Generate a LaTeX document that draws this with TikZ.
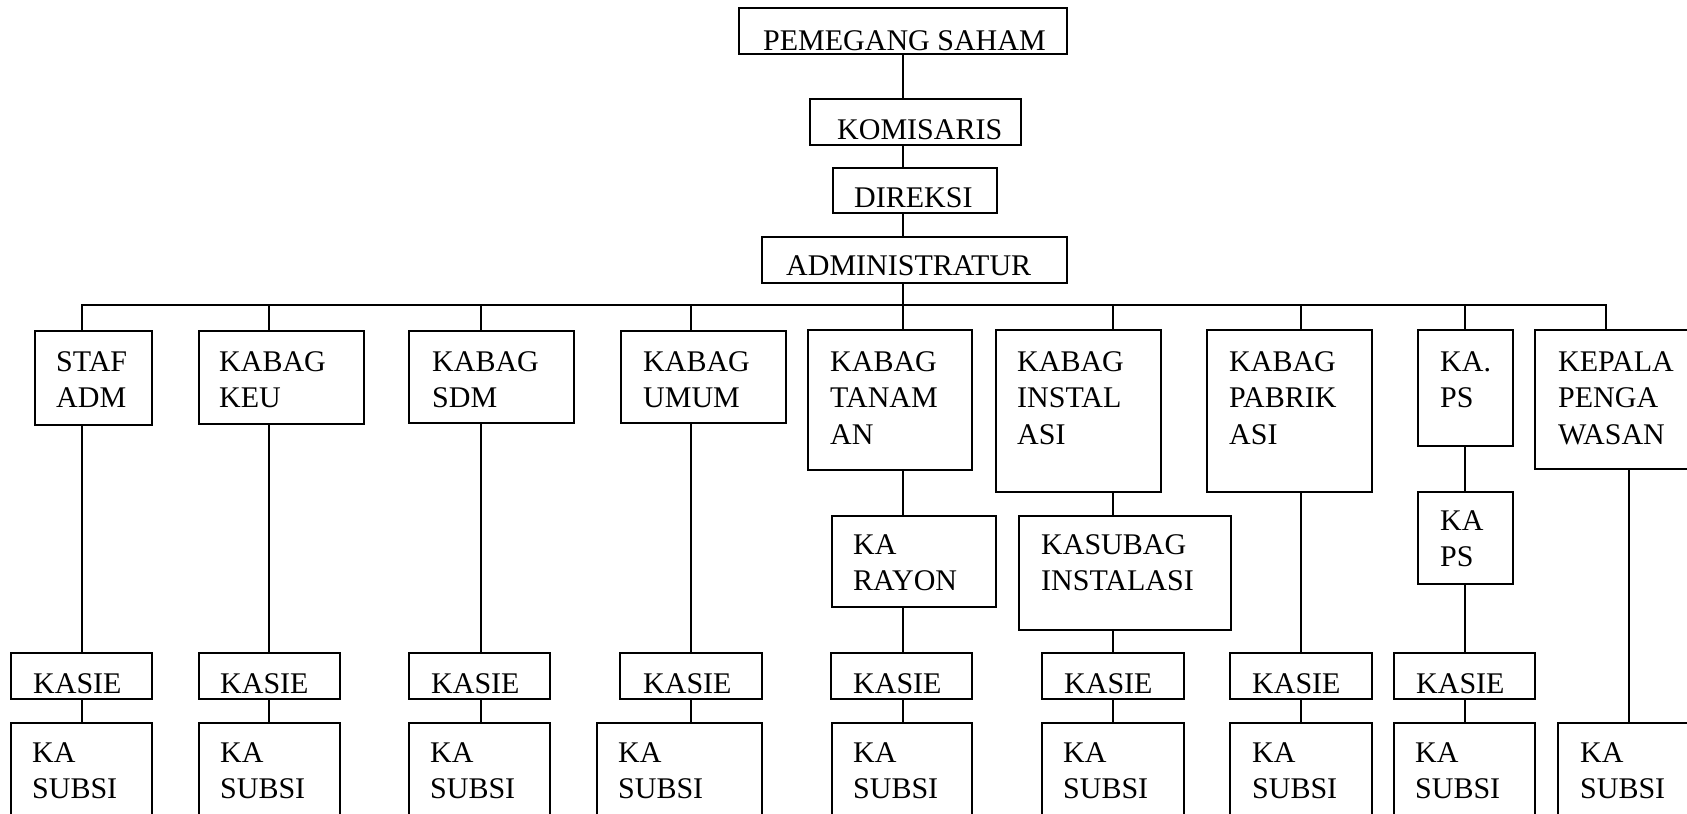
\documentclass[tikz,border=0pt]{standalone}
\usepackage{fontspec}
\setmainfont{Liberation Serif}
\usetikzlibrary{fit}
\begin{document}
\begin{tikzpicture}[x=1pt,y=-1pt,
  box/.style={draw, line width=2pt, inner sep=0pt, rectangle},
  txt/.style={anchor=north west, inner sep=0pt, align=left, font=\fontsize{30}{36.5}\selectfont},
  link/.style={line width=2pt}]
\fill[white] (0,0) rectangle (1687,814);
\useasboundingbox (0,0) rectangle (1687,814);

% top chain
\node[box, fit={(739,8)(1067,54)}] (psaham) {};
\node[txt] (t-psaham) at (763,30) {PEMEGANG SAHAM};
\node[box, fit={(810,99)(1021,145)}] (komis) {};
\node[txt] (t-komis) at (837,119) {KOMISARIS};
\node[box, fit={(833,168)(997,213)}] (direk) {};
\node[txt] (t-direk) at (854,187) {DIREKSI};
\node[box, fit={(762,237)(1067,283)}] (admin) {};
\node[txt] (t-admin) at (786,255) {ADMINISTRATUR};

% level 1
\node[box, fit={(35,331)(152,425)}] (staf) {};
\node[txt] (t-staf) at (56,351) {STAF\\ADM};
\node[box, fit={(199,331)(364,424)}] (keu) {};
\node[txt] (t-keu) at (219,351) {KABAG\\KEU};
\node[box, fit={(409,331)(574,423)}] (sdm) {};
\node[txt] (t-sdm) at (432,351) {KABAG\\SDM};
\node[box, fit={(621,331)(786,423)}] (umum) {};
\node[txt] (t-umum) at (643,351) {KABAG\\UMUM};
\node[box, fit={(808,330)(972,470)}] (tanam) {};
\node[txt] (t-tanam) at (830,351) {KABAG\\TANAM\\AN};
\node[box, fit={(996,330)(1161,492)}] (instal) {};
\node[txt] (t-instal) at (1017,351) {KABAG\\INSTAL\\ASI};
\node[box, fit={(1207,330)(1372,492)}] (pabrik) {};
\node[txt] (t-pabrik) at (1229,351) {KABAG\\PABRIK\\ASI};
\node[box, fit={(1418,330)(1513,446)}] (kaps) {};
\node[txt] (t-kaps) at (1440,351) {KA.\\PS};
\node[box, fit={(1535,330)(1700,469)}] (kepala) {};
\node[txt] (t-kepala) at (1558,351) {KEPALA\\PENGA\\WASAN};

% level 2
\node[box, fit={(832,516)(996,607)}] (rayon) {};
\node[txt] (t-rayon) at (853,534) {KA\\RAYON};
\node[box, fit={(1019,516)(1231,630)}] (kasubag) {};
\node[txt] (t-kasubag) at (1041,534) {KASUBAG\\INSTALASI};
\node[box, fit={(1418,492)(1513,584)}] (kaps2) {};
\node[txt] (t-kaps2) at (1440,510) {KA\\PS};

% KASIE row
\node[box, fit={(11,653)(152,699)}] (k1) {};
\node[txt] (t-k1) at (33,673) {KASIE};
\node[box, fit={(199,653)(340,699)}] (k2) {};
\node[txt] (t-k2) at (220,673) {KASIE};
\node[box, fit={(409,653)(550,699)}] (k3) {};
\node[txt] (t-k3) at (431,673) {KASIE};
\node[box, fit={(620,653)(762,699)}] (k4) {};
\node[txt] (t-k4) at (643,673) {KASIE};
\node[box, fit={(831,653)(972,699)}] (k5) {};
\node[txt] (t-k5) at (853,673) {KASIE};
\node[box, fit={(1042,653)(1184,699)}] (k6) {};
\node[txt] (t-k6) at (1064,673) {KASIE};
\node[box, fit={(1230,653)(1372,699)}] (k7) {};
\node[txt] (t-k7) at (1252,673) {KASIE};
\node[box, fit={(1394,653)(1535,699)}] (k8) {};
\node[txt] (t-k8) at (1416,673) {KASIE};

% KA SUBSI row
\node[box, fit={(11,723)(152,830)}] (s1) {};
\node[txt] (t-s1) at (32,742) {KA\\SUBSI};
\node[box, fit={(199,723)(340,830)}] (s2) {};
\node[txt] (t-s2) at (220,742) {KA\\SUBSI};
\node[box, fit={(409,723)(550,830)}] (s3) {};
\node[txt] (t-s3) at (430,742) {KA\\SUBSI};
\node[box, fit={(597,723)(762,830)}] (s4) {};
\node[txt] (t-s4) at (618,742) {KA\\SUBSI};
\node[box, fit={(832,723)(972,830)}] (s5) {};
\node[txt] (t-s5) at (853,742) {KA\\SUBSI};
\node[box, fit={(1042,723)(1184,830)}] (s6) {};
\node[txt] (t-s6) at (1063,742) {KA\\SUBSI};
\node[box, fit={(1230,723)(1372,830)}] (s7) {};
\node[txt] (t-s7) at (1252,742) {KA\\SUBSI};
\node[box, fit={(1394,723)(1535,830)}] (s8) {};
\node[txt] (t-s8) at (1415,742) {KA\\SUBSI};
\node[box, fit={(1558,723)(1700,830)}] (s9) {};
\node[txt] (t-s9) at (1580,742) {KA\\SUBSI};

% connector coordinates
\coordinate (tr) at (903,305);
\coordinate (v1) at (82,305);
\coordinate (v2) at (269,305);
\coordinate (v3) at (481,305);
\coordinate (v4) at (691,305);
\coordinate (v5) at (903,305);
\coordinate (v6) at (1113,305);
\coordinate (v7) at (1301,305);
\coordinate (v8) at (1465,305);
\coordinate (v9) at (1606,305);
\coordinate (w9) at (1629,600);

% trunk
\draw[link] (tr |- psaham.south) -- (tr |- komis.north);
\draw[link] (tr |- komis.south) -- (tr |- direk.north);
\draw[link] (tr |- direk.south) -- (tr |- admin.north);
\draw[link] (tr |- admin.south) -- (tr);

% bus
\draw[link] (v1 |- staf.north) -- (v1) -- (v9) -- (v9 |- kepala.north);

% columns
\draw[link] (v1 |- staf.south) -- (v1 |- k1.north);
\draw[link] (v1 |- k1.south) -- (v1 |- s1.north);

\draw[link] (v2) -- (v2 |- keu.north);
\draw[link] (v2 |- keu.south) -- (v2 |- k2.north);
\draw[link] (v2 |- k2.south) -- (v2 |- s2.north);

\draw[link] (v3) -- (v3 |- sdm.north);
\draw[link] (v3 |- sdm.south) -- (v3 |- k3.north);
\draw[link] (v3 |- k3.south) -- (v3 |- s3.north);

\draw[link] (v4) -- (v4 |- umum.north);
\draw[link] (v4 |- umum.south) -- (v4 |- k4.north);
\draw[link] (v4 |- k4.south) -- (v4 |- s4.north);

\draw[link] (v5) -- (v5 |- tanam.north);
\draw[link] (v5 |- tanam.south) -- (v5 |- rayon.north);
\draw[link] (v5 |- rayon.south) -- (v5 |- k5.north);
\draw[link] (v5 |- k5.south) -- (v5 |- s5.north);

\draw[link] (v6) -- (v6 |- instal.north);
\draw[link] (v6 |- instal.south) -- (v6 |- kasubag.north);
\draw[link] (v6 |- kasubag.south) -- (v6 |- k6.north);
\draw[link] (v6 |- k6.south) -- (v6 |- s6.north);

\draw[link] (v7) -- (v7 |- pabrik.north);
\draw[link] (v7 |- pabrik.south) -- (v7 |- k7.north);
\draw[link] (v7 |- k7.south) -- (v7 |- s7.north);

\draw[link] (v8) -- (v8 |- kaps.north);
\draw[link] (v8 |- kaps.south) -- (v8 |- kaps2.north);
\draw[link] (v8 |- kaps2.south) -- (v8 |- k8.north);
\draw[link] (v8 |- k8.south) -- (v8 |- s8.north);

\draw[link] (w9 |- kepala.south) -- (w9 |- s9.north);
\end{tikzpicture}
\end{document}
